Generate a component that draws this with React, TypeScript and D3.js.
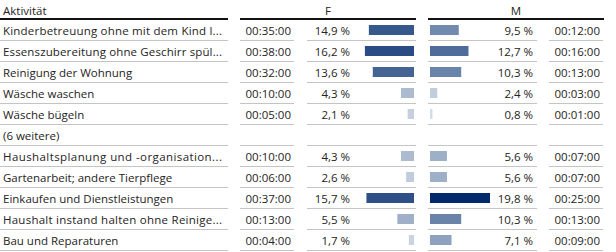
import * as d3 from 'd3';

const WIDTH = 616;
const HEIGHT = 252;

const activities = [
  'Kinderbetreuung ohne mit dem Kind l...',
  'Essenszubereitung ohne Geschirr spül...',
  'Reinigung der Wohnung',
  'Wäsche waschen',
  'Wäsche bügeln',
  '(6 weitere)',
  'Haushaltsplanung und -organisation...',
  'Gartenarbeit; andere Tierpflege',
  'Einkaufen und Dienstleistungen',
  'Haushalt instand halten ohne Reinige...',
  'Bau und Reparaturen',
];
const fTime = ['00:35:00', '00:38:00', '00:32:00', '00:10:00', '00:05:00', null, '00:10:00', '00:06:00', '00:37:00', '00:13:00', '00:04:00'];
const fPct = [14.9, 16.2, 13.6, 4.3, 2.1, null, 4.3, 2.6, 15.7, 5.5, 1.7];
const mPct = [9.5, 12.7, 10.3, 2.4, 0.8, null, 5.6, 5.6, 19.8, 10.3, 7.1];
const mTime = ['00:12:00', '00:16:00', '00:13:00', '00:03:00', '00:01:00', null, '00:07:00', '00:07:00', '00:25:00', '00:13:00', '00:09:00'];
const headerLabel = 'Aktivität';
const groups = ['F', 'M'];

const FONT = "'Segoe UI', 'Open Sans', 'Noto Sans', sans-serif";
const TEXT = '#252423';
const RULE = '#c4c4c4';

// column extents (x0, x1)
const COL = {
  act: [0, 228],
  fTime: [240, 294],
  fPct: [307, 416],
  mPct: [428, 537],
  mTime: [549, 603],
};

const App = () => {
  const rowScale = d3
    .scaleBand<number>()
    .domain(d3.range(activities.length))
    .range([19, 19 + 21 * activities.length])
    .padding(0);

  const maxPct = d3.max([...fPct, ...mPct].filter((d) => d != null) as number[]) ?? 1;
  const barScale = d3.scaleLinear().domain([0, maxPct]).range([0, 60]);
  const colorScale = d3
    .scaleLinear<string>()
    .domain([0, maxPct])
    .range(['#dde3ec', '#002a6c'])
    .interpolate(d3.interpolateRgb);

  const bw = rowScale.bandwidth();
  const fmt = (v: number) => d3.format('.1f')(v).replace('.', ',') + ' %';

  const rows = activities.map((name, i) => {
    const y0 = rowScale(i) ?? 0;
    const y1 = y0 + bw;
    const base = y1 - 5.5;
    const truncated = name.endsWith('...');
    const empty = fPct[i] == null;
    const fv = fPct[i] as number;
    const mv = mPct[i] as number;
    return (
      <g key={i}>
        {[COL.act, COL.fTime, COL.fPct, COL.mPct, COL.mTime].map((c, j) => (
          <line key={j} x1={c[0]} x2={c[1]} y1={y1 + 0.5} y2={y1 + 0.5} stroke={RULE} strokeWidth={1} />
        ))}
        <text
          x={3}
          y={base}
          {...(truncated ? { textLength: 219, lengthAdjust: 'spacing' } : {})}
        >
          {name}
        </text>
        {!empty && (
          <>
            <text x={COL.fTime[1] - 3} y={base} textAnchor="end">{fTime[i]}</text>
            <text x={350} y={base} textAnchor="end">{fmt(fv)}</text>
            <rect
              x={414 - barScale(fv)}
              y={y0 + 6}
              width={barScale(fv)}
              height={10}
              fill={colorScale(fv)}
            />
            <rect
              x={430}
              y={y0 + 6}
              width={barScale(mv)}
              height={10}
              fill={colorScale(mv)}
            />
            <text x={533} y={base} textAnchor="end">{fmt(mv)}</text>
            <text x={COL.mTime[1] - 3} y={base} textAnchor="end">{mTime[i]}</text>
          </>
        )}
      </g>
    );
  });

  return (
    <svg
      width={WIDTH}
      height={HEIGHT}
      style={{ position: 'absolute', left: 0, top: 0, background: '#fff' }}
      fontFamily={FONT}
      fontSize={11.5}
      fill={TEXT}
    >
      <text x={3} y={15}>{headerLabel}</text>
      <text x={328} y={15} textAnchor="middle">{groups[0]}</text>
      <text x={516} y={15} textAnchor="middle">{groups[1]}</text>
      <line x1={0} x2={228} y1={19} y2={19} stroke="#111" strokeWidth={2} />
      <line x1={240} x2={416} y1={19} y2={19} stroke="#111" strokeWidth={2} />
      <line x1={428} x2={604} y1={19} y2={19} stroke="#111" strokeWidth={2} />
      {rows}
    </svg>
  );
};

export default App;
